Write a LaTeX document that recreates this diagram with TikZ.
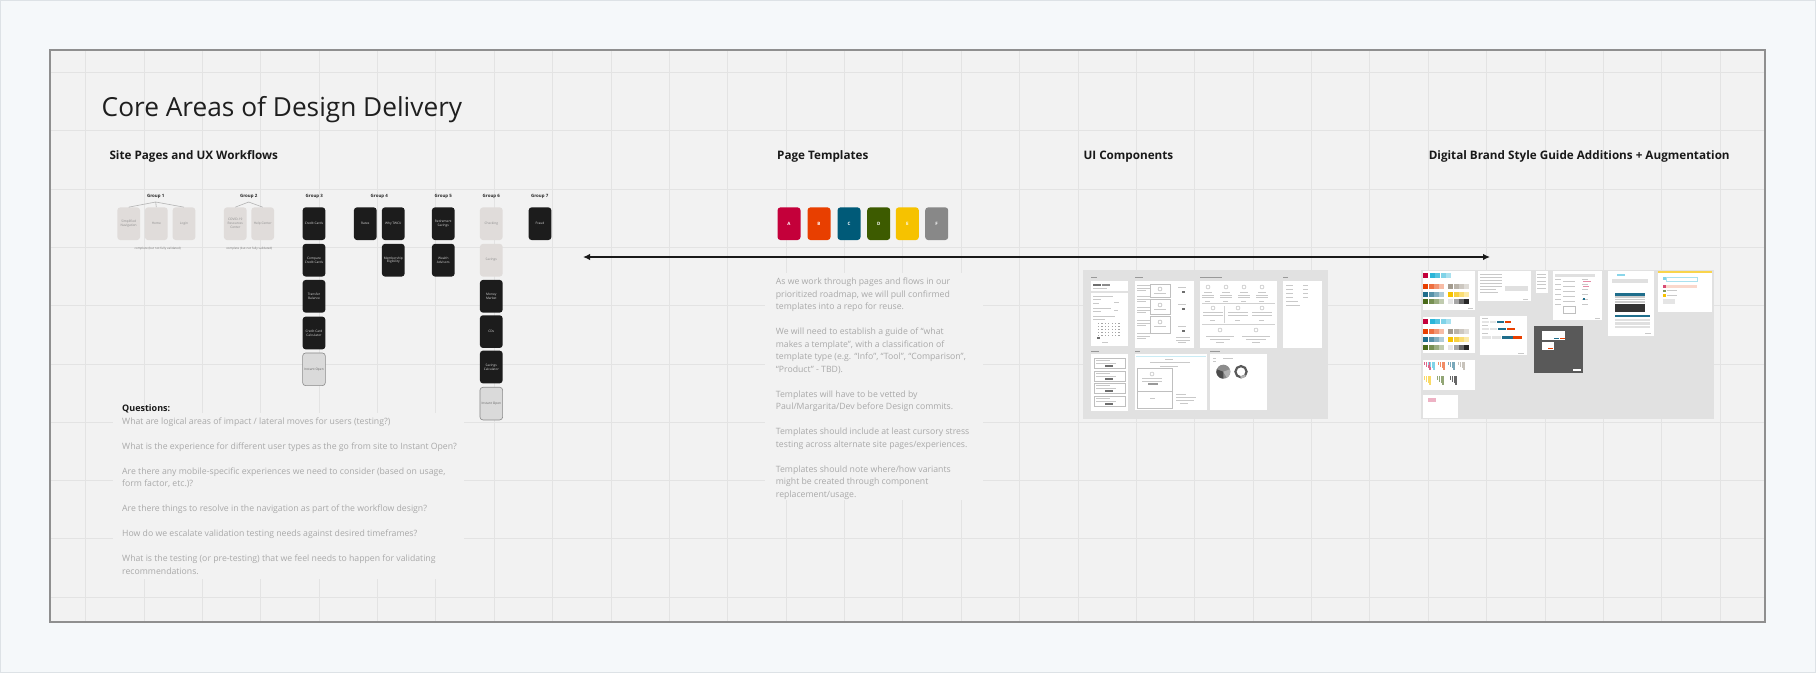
\documentclass[tikz,border=0pt]{standalone}
\usepackage{fontspec}
\setmainfont{Open Sans}
\usetikzlibrary{arrows.meta}
\definecolor{outerbg}{HTML}{F5F8FA}
\definecolor{outerln}{HTML}{DDE2E6}
\definecolor{canvas}{HTML}{F2F2F2}
\definecolor{gridc}{HTML}{E3E3E3}
\definecolor{framec}{HTML}{8F8F8F}
\definecolor{darkbox}{HTML}{1C1C1C}
\definecolor{lightbox}{HTML}{E0DCDA}
\definecolor{iobox}{HTML}{DADADA}
\definecolor{ioline}{HTML}{8A8A8A}
\definecolor{bodyt}{HTML}{A9A9A9}
\definecolor{thumbbg}{HTML}{E1E1E1}
\definecolor{tlc}{HTML}{C9C9C9}
\definecolor{tdk}{HTML}{6E6E6E}
\definecolor{cA}{HTML}{C4003A}
\definecolor{cB}{HTML}{E83F00}
\definecolor{cC}{HTML}{005A78}
\definecolor{cD}{HTML}{3D5B00}
\definecolor{cE}{HTML}{F6C200}
\definecolor{cF}{HTML}{888888}
\definecolor{cyanb}{HTML}{2BB5D8}
\definecolor{warmg}{HTML}{A39B8E}
\definecolor{tealb}{HTML}{1F6E8C}
\definecolor{greenb}{HTML}{4A6B1A}
\newcommand{\tln}[3]{\fill[tlc] (#1,#2) rectangle ++(#3,0.9);}
\tikzset{
  wf/.style={rectangle, rounded corners=3pt, minimum width=22.7pt, minimum height=32.7pt,
    inner sep=0pt, align=center, font=\fontsize{3.2}{3.9}\selectfont},
  darkwf/.style={wf, fill=darkbox, text=white!85!black},
  lightwf/.style={wf, fill=lightbox, text=black!45},
  iowf/.style={wf, fill=iobox, draw=ioline, line width=0.6pt, text=black!60},
  grp/.style={font=\fontsize{4.4}{5}\selectfont\bfseries, text=black!85, inner sep=0pt},
  capt/.style={font=\fontsize{3}{3.6}\selectfont, text=black!55, inner sep=0pt},
  tpl/.style={rectangle, rounded corners=3pt, minimum width=23pt, minimum height=32.7pt,
    inner sep=0pt, text=white, font=\fontsize{4.5}{5}\selectfont\bfseries},
  heading/.style={font=\fontsize{11.7}{14}\selectfont\bfseries, text=black!90, inner sep=0pt, anchor=base west},
  body/.style={font=\fontsize{8.7}{12.5}\selectfont, text=bodyt, inner sep=0pt, align=left, anchor=north west},
  tree/.style={draw=black!30, line width=0.6pt},
  thumb/.style={fill=white},
}
\begin{document}
\begin{tikzpicture}[x=1pt,y=-1pt]
\useasboundingbox (0,0) rectangle (1816,673);
% outer background
\fill[outerbg] (0,0) rectangle (1816,673);
\draw[outerln, line width=1pt] (0.5,0.5) rectangle (1815.5,672.5);
% canvas
\fill[canvas] (50,50) rectangle (1765,622);
\foreach \i in {0,...,28} {\draw[gridc, line width=0.9pt] ({85.7+\i*58.37},50) -- ({85.7+\i*58.37},622);}
\foreach \j in {0,...,9} {\draw[gridc, line width=0.9pt] (50,{72.3+\j*58.33}) -- (1765,{72.3+\j*58.33});}
\draw[framec, line width=1.2pt] (50,50) rectangle (1765,622);

% title and headings
\node[font=\fontsize{26.25}{30}\selectfont, text=black!88, inner sep=0pt, anchor=base west] (title) at (101.5,116) {Core Areas of Design Delivery};
\node[heading] (h1) at (109.3,159.3) {Site Pages and UX Workflows};
\node[heading] (h2) at (777,159.3) {Page Templates};
\node[heading] (h3) at (1083.3,159.3) {UI Components};
\node[heading] (h4) at (1428.6,159.3) {Digital Brand Style Guide Additions + Augmentation};

% ---- groups ----
\node[grp] (g1) at (155.7,196) {Group 1};
\node[grp] (g2) at (248.7,196) {Group 2};
\node[grp] (g3) at (314.3,196) {Group 3};
\node[grp] (g4) at (379.3,196) {Group 4};
\node[grp] (g5) at (443.3,196) {Group 5};
\node[grp] (g6) at (491.3,196) {Group 6};
\node[grp] (g7) at (539.7,196) {Group 7};

\node[lightwf] (g1a) at (128.7,223.7) {Simplified\\Navigation};
\node[lightwf] (g1b) at (156.3,223.7) {Home};
\node[lightwf] (g1c) at (184,223.7) {Login};
\coordinate (t1) at (155.7,202);
\draw[tree] (t1) -- (g1a.north);
\draw[tree] (t1) -- (g1b.north);
\draw[tree] (t1) -- (g1c.north);
\node[capt] (c1) at (157.7,248.3) {complete (but not fully validated)};

\node[lightwf] (g2a) at (235.3,223.7) {COVID-19\\Resources\\Center};
\node[lightwf] (g2b) at (262.7,223.7) {Help Center};
\coordinate (t2) at (248.7,202);
\draw[tree] (t2) -- (g2a.north);
\draw[tree] (t2) -- (g2b.north);
\node[capt] (c2) at (249.3,248.3) {complete (but not fully validated)};

\node[darkwf] (g3a) at (314,223.7) {Credit Cards};
\node[darkwf] (g3b) at (314,260.2) {Compare\\Credit Cards};
\node[darkwf] (g3c) at (314,296.3) {Transfer\\Balance};
\node[darkwf] (g3d) at (314,333) {Credit Card\\Calculator};
\node[iowf] (g3e) at (314,369.3) {Instant Open};

\node[darkwf] (g4a) at (365.3,223.7) {Rates};
\node[darkwf] (g4b) at (393.3,223.7) {Why TWCU};
\node[darkwf] (g4c) at (393.3,260.2) {Membership\\Eligibility};

\node[darkwf] (g5a) at (443.3,223.7) {Retirement\\Savings};
\node[darkwf] (g5b) at (443.3,260.2) {Wealth\\Advisors};

\node[lightwf] (g6a) at (491.3,223.7) {Checking};
\node[lightwf] (g6b) at (491.3,260.2) {Savings};
\node[darkwf] (g6c) at (491.3,296.3) {Money\\Market};
\node[darkwf] (g6d) at (491.3,331.6) {CDs};
\node[darkwf] (g6e) at (491.3,367) {Savings\\Calculator};
\node[iowf] (g6f) at (491.3,403.6) {Instant Open};

\node[darkwf] (g7a) at (540,223.7) {Fraud};

% ---- questions ----
\fill[canvas] (113.3,412.7) rectangle (464,578.7);
\node[font=\fontsize{9}{11}\selectfont\bfseries, text=black!90, inner sep=0pt, anchor=base west] (q) at (122,411.6) {Questions:};
\node[body] (qt) at (122,417.3) {What are logical areas of impact / lateral moves for users (testing?)\\[12.5pt]
What is the experience for different user types as the go from site to Instant Open?\\[12.5pt]
Are there any mobile-specific experiences we need to consider (based on usage,\\
form factor, etc.)?\\[12.5pt]
Are there things to resolve in the navigation as part of the workflow design?\\[12.5pt]
How do we escalate validation testing needs against desired timeframes?\\[12.5pt]
What is the testing (or pre-testing) that we feel needs to happen for validating\\
recommendations.};

% ---- page templates ----
\node[tpl, fill=cA] (pA) at (789,223.7) {A};
\node[tpl, fill=cB] (pB) at (819,223.7) {B};
\node[tpl, fill=cC] (pC) at (849,223.7) {C};
\node[tpl, fill=cD] (pD) at (878.7,223.7) {D};
\node[tpl, fill=cE] (pE) at (907.3,223.7) {E};
\node[tpl, fill=cF] (pF) at (936.7,223.7) {F};

\coordinate (al) at (583,257);
\coordinate (ar) at (1490,257);
\draw[{Latex[length=7pt,width=6.5pt]}-{Latex[length=7pt,width=6.5pt]}, line width=1.6pt, black!90] (al) -- (ar);

\fill[canvas] (765,273) rectangle (983,500);
\node[body] (pt) at (775.7,277.8) {As we work through pages and flows in our\\
prioritized roadmap, we will pull confirmed\\
templates into a repo for reuse.\\[12.5pt]
We will need to establish a guide of ``what\\
makes a template'', with a classification of\\
template type (e.g. ``Info'', ``Tool'', ``Comparison'',\\
``Product'' - TBD).\\[12.5pt]
Templates will have to be vetted by\\
Paul/Margarita/Dev before Design commits.\\[12.5pt]
Templates should include at least cursory stress\\
testing across alternate site pages/experiences.\\[12.5pt]
Templates should note where/how variants\\
might be created through component\\
replacement/usage.};

% ---- UI components thumbnails ----
\fill[thumbbg] (1082.7,270) rectangle (1328.3,419.3);
\foreach \x/\y/\w in {1091/277.2/6, 1135/277.2/8, 1200/277.2/22, 1283.3/277.2/5, 1091/351/8, 1135/351/5, 1210/351/10} {\fill[black!40] (\x,\y) rectangle ++(\w,0.8);}
\fill[thumb] (1091,281) rectangle (1128,290.7);
\fill[tdk] (1093,284) rectangle (1101,286.3);
\fill[black!45] (1101.5,284) rectangle (1110,286.3);
\tln{1093}{288}{14}
\fill[thumb] (1091,292.7) rectangle (1128,346);
\tln{1093}{296}{20} \tln{1093}{299}{8} \tln{1093}{303}{6} \tln{1114}{302}{5}
\tln{1093}{308}{18} \tln{1093}{311}{8} \tln{1114}{310}{4}
\tln{1093}{316}{22} \tln{1093}{319}{12}
\foreach \r in {0,...,4} {\foreach \c in {0,...,6} {\fill[black!35] ({1098+\c*3.4},{323+\r*3}) rectangle ++(1.2,1);}}
\fill[tdk] (1097,337) rectangle (1100,339);
\tln{1102}{342}{6}
\fill[thumb] (1135,281) rectangle (1194.3,348.3);
\foreach \yy in {285,296,307,320,333} {\tln{1137}{\yy}{13} \tln{1137}{\yy+2.5}{13} \tln{1137}{\yy+5}{9}}
\draw[black!25, line width=0.4pt] (1150,284) rectangle (1170,297) (1150,299) rectangle (1170,314) (1150,316) rectangle (1170,333);
\foreach \yy in {289,305,322} {\draw[black!35, line width=0.4pt] (1160,\yy) circle (2); \tln{1154}{\yy+4}{12}}
\foreach \yy in {291,308,330} {\fill[tdk] (1181.5,\yy) rectangle ++(3,1.5); \tln{1178}{\yy-4}{8}}
\tln{1176}{337}{14} \tln{1176}{339.5}{14} \tln{1178}{342}{8}
\fill[thumb] (1200,281) rectangle (1276.7,348.3);
\foreach \cx in {1208,1226,1244,1262} {\draw[black!30, line width=0.4pt] (\cx,287) circle (2); \tln{\cx-4}{292}{8} \tln{\cx-6}{294.5}{12} \tln{\cx-6}{297}{12} \tln{\cx-3}{301}{5}}
\fill[black!18] (1202,303) rectangle (1275,303.9);
\foreach \cx in {1213,1238,1262} {\draw[black!30, line width=0.4pt] (\cx,308) circle (2); \tln{\cx-10}{312}{20} \tln{\cx-10}{314.5}{20} \tln{\cx-3}{320}{5}}
\fill[black!18] (1202,324) rectangle (1275,324.9);
\fill[black!18] (1224,306) rectangle (1224.8,323);
\foreach \cx in {1220,1256} {\draw[black!30, line width=0.4pt] (\cx,330) circle (2); \tln{\cx-14}{336}{28} \tln{\cx-10}{338.5}{20} \tln{\cx-4}{342}{8}}
\fill[thumb] (1283.3,281) rectangle (1321.7,348.3);
\foreach \yy in {285,289,293,297} {\tln{1286}{\yy}{7} \tln{1303}{\yy}{5}}
\tln{1286}{301}{12} \tln{1286}{305}{14}
\fill[thumb] (1091,354.3) rectangle (1128,410.7);
\foreach \yy in {358,371,383,396} {\draw[black!25, line width=0.4pt] (1094,\yy) rectangle (1125,\yy+10); \tln{1096}{\yy+2}{14} \tln{1096}{\yy+4.5}{20} \fill[tdk] (1105,\yy+6.5) rectangle ++(8,2);}
\fill[thumb] (1135,354.3) rectangle (1206.7,410);
\fill[cyanb!25] (1136,356) rectangle (1205.7,357);
\tln{1165}{359}{8} \tln{1150}{362}{40} \tln{1160}{366}{18}
\draw[black!25, line width=0.4pt] (1137,368.5) rectangle (1172,408) (1137,391) -- (1172,391) (1172,368.5) -- (1172,408);
\draw[black!30, line width=0.4pt] (1152,374) circle (2);
\tln{1142}{378}{20} \tln{1142}{380.5}{20} \fill[black!40] (1148,383) rectangle ++(10,1.5);
\tln{1150}{398}{5}
\tln{1176}{394}{10} \tln{1176}{397}{20} \tln{1176}{399.5}{18} \tln{1180}{403}{8}
\fill[thumb] (1210,354.3) rectangle (1266.7,410);
\tln{1213}{358}{3} \tln{1213}{361}{3} \tln{1223}{358}{10}
\fill[black!45] (1223.3,371.7) circle (7);
\fill[black!70] (1223.3,371.7) -- ++(90:7) arc[start angle=90, end angle=200, radius=7] -- cycle;
\fill[black!30] (1223.3,371.7) -- ++(-20:7) arc[start angle=-20, end angle=60, radius=7] -- cycle;
\draw[black!65, line width=2.2pt] (1241,371.7) circle (5.6);
\draw[black!30, line width=2.2pt] (1241,371.7) ++(40:5.6) arc[start angle=40, end angle=95, radius=5.6];

% ---- digital brand thumbnails ----
\fill[thumbbg] (1421,270) rectangle (1714,419.3);
% P1 swatches
\fill[thumb] (1422.7,271) rectangle (1475,310);
\fill[cA] (1423.3,273.3) rectangle ++(5,5);
\foreach \i/\o in {0/100,1/80,2/60,3/40} {\fill[cyanb!\o] ({1430+\i*5.4},273.3) rectangle ++(5,5);}
\foreach \i/\o in {0/100,1/75,2/55,3/35} {\fill[cB!\o] ({1423.3+\i*5.3},284) rectangle ++(5,5); \fill[warmg!\o] ({1448.3+\i*5.3},284) rectangle ++(5,5);
  \fill[tealb!\o] ({1423.3+\i*5.3},291.7) rectangle ++(5,5); \fill[cE!\o] ({1448.3+\i*5.3},291.7) rectangle ++(5,5);
  \fill[greenb!\o] ({1423.3+\i*5.3},299.3) rectangle ++(5,5);}
\foreach \i/\o in {0/10,1/35,2/60,3/85} {\fill[black!\o] ({1448.3+\i*5.3},299.3) rectangle ++(5,5);}
\tln{1468}{308}{5}
% P2 text
\fill[thumb] (1478.3,271) rectangle (1530.7,300.7);
\foreach \yy in {274,277,280,283,286} {\tln{1480}{\yy}{22}}
\fill[black!12] (1505,286) rectangle (1528,291);
\tln{1480}{289}{16} \tln{1480}{292}{18} \tln{1523}{298.5}{5}
% P3
\fill[thumb] (1536,271) rectangle (1548,292.7);
\foreach \yy in {274,277,281,284,288} {\tln{1537}{\yy}{9}}
% P4 form
\fill[thumb] (1553.3,271) rectangle (1601.7,320);
\fill[black!12] (1555,274) rectangle (1595,276.5);
\foreach \yy in {279,284,289,294,299,304} {\tln{1555}{\yy}{6} \tln{1563}{\yy+1.5}{12} \tln{1582}{\yy}{6}}
\fill[cA!45] (1583,281) rectangle ++(8,0.9); \fill[cA!45] (1583,286) rectangle ++(6,0.9);
\fill[tealb] (1583,298) rectangle ++(2,2);
\draw[black!25, line width=0.3pt] (1563,306) rectangle (1575,313);
\tln{1595}{318}{5}
% P5 tables
\fill[thumb] (1608,271) rectangle (1654.3,336);
\fill[cyanb!55] (1617,274) rectangle (1625,276);
\fill[black!12] (1612,279) rectangle (1648,283);
\fill[tealb] (1615,293) rectangle (1645,295.5);
\foreach \yy in {296,298.5,301} {\fill[black!20] (1615,\yy) rectangle ++(30,1.5);}
\fill[black!80] (1615,304) rectangle (1645,312);
\fill[tealb] (1615,315) rectangle (1650,317);
\foreach \yy in {318.5,322,325.5} {\fill[black!12] (1615,\yy) rectangle ++(35,2.5);}
\tln{1645}{333}{6}
% P6 alerts
\fill[thumb] (1658,271) rectangle (1712.3,311.7);
\fill[cE!70] (1658,271) rectangle (1712.3,273);
\fill[cyanb!60] (1663,277) rectangle ++(2.5,3); \draw[cyanb!40, line width=0.3pt] (1666,277) rectangle (1697,281);
\fill[cA!70] (1663,285) rectangle ++(2.5,2.5); \fill[cB!20] (1666,285) rectangle (1697,287.5);
\fill[greenb!70] (1663,289.5) rectangle ++(2.5,2.5); \tln{1667}{290}{10}
\fill[cE] (1663,294) rectangle ++(2.5,2.5); \tln{1667}{294.5}{10}
\fill[black!10] (1663,299) rectangle (1675,304);
% P7 swatches 2
\fill[thumb] (1422.7,316.7) rectangle (1475,353.3);
\fill[cA] (1423.3,318.7) rectangle ++(5,5);
\foreach \i/\o in {0/100,1/80,2/60,3/40} {\fill[cyanb!\o] ({1430+\i*5.4},318.7) rectangle ++(5,5);}
\foreach \i/\o in {0/100,1/75,2/55,3/35} {\fill[cB!\o] ({1423.3+\i*5.3},329.3) rectangle ++(5,5); \fill[warmg!\o] ({1448.3+\i*5.3},329.3) rectangle ++(5,5);
  \fill[tealb!\o] ({1423.3+\i*5.3},336.7) rectangle ++(5,5); \fill[cE!\o] ({1448.3+\i*5.3},336.7) rectangle ++(5,5);
  \fill[greenb!\o] ({1423.3+\i*5.3},344.7) rectangle ++(5,5);}
\foreach \i/\o in {0/10,1/35,2/60,3/85} {\fill[black!\o] ({1448.3+\i*5.3},344.7) rectangle ++(5,5);}
% P8 buttons
\fill[thumb] (1480,316) rectangle (1526.7,355);
\tln{1482}{318}{6}
\fill[black!10] (1482,321) rectangle ++(7,1.5); \fill[black!10] (1490,321) rectangle ++(6,1.5); \fill[tealb] (1497,321) rectangle ++(7,1.5); \fill[cB] (1505,321) rectangle ++(6,1.5);
\tln{1482}{325}{6}
\fill[black!10] (1482,328) rectangle ++(7,2); \fill[black!10] (1490,328) rectangle ++(7,2); \fill[tealb] (1498,328) rectangle ++(8,2); \fill[cB] (1507,328) rectangle ++(8,2);
\tln{1482}{333}{6}
\fill[black!10] (1482,336) rectangle ++(9,2.5); \fill[black!10] (1492,336) rectangle ++(9,2.5); \fill[tealb] (1502,336) rectangle ++(11,2.5); \fill[cB] (1513,336) rectangle ++(9,2.5);
\tln{1518}{353}{6}
% P9 modal dark
\fill[black!65] (1534,326) rectangle (1582.7,373.3);
\fill[white] (1542,331) rectangle (1565,340);
\fill[tealb] (1554,337.5) rectangle ++(5,1.5); \fill[cB] (1559.5,337.5) rectangle ++(5,1.5);
\fill[white] (1542,342) rectangle (1554,350);
\fill[cB] (1548,347.5) rectangle ++(5,1.5);
\fill[white] (1573,369) rectangle ++(8,2);
% P10 colour strips
\fill[thumb] (1422.7,360) rectangle (1475,390);
\foreach \xx/\cc in {1424/cA,1428/cyanb,1438/cB,1448/tealb,1458/warmg} {\foreach \k in {0,...,3} {\fill[\cc!60] ({\xx+\k*1.8},362) rectangle ++(1.2,{3+\k*1.5});}}
\foreach \xx/\cc in {1424/cE,1437/greenb,1450/black} {\foreach \k in {0,...,3} {\fill[\cc!60] ({\xx+\k*1.8},376) rectangle ++(1.2,{4+\k*1.7});}}
% P11
\fill[thumb] (1422.7,394.7) rectangle (1457.7,418.3);
\fill[cA!30] (1428,398) rectangle (1436,402);
\end{tikzpicture}
\end{document}
